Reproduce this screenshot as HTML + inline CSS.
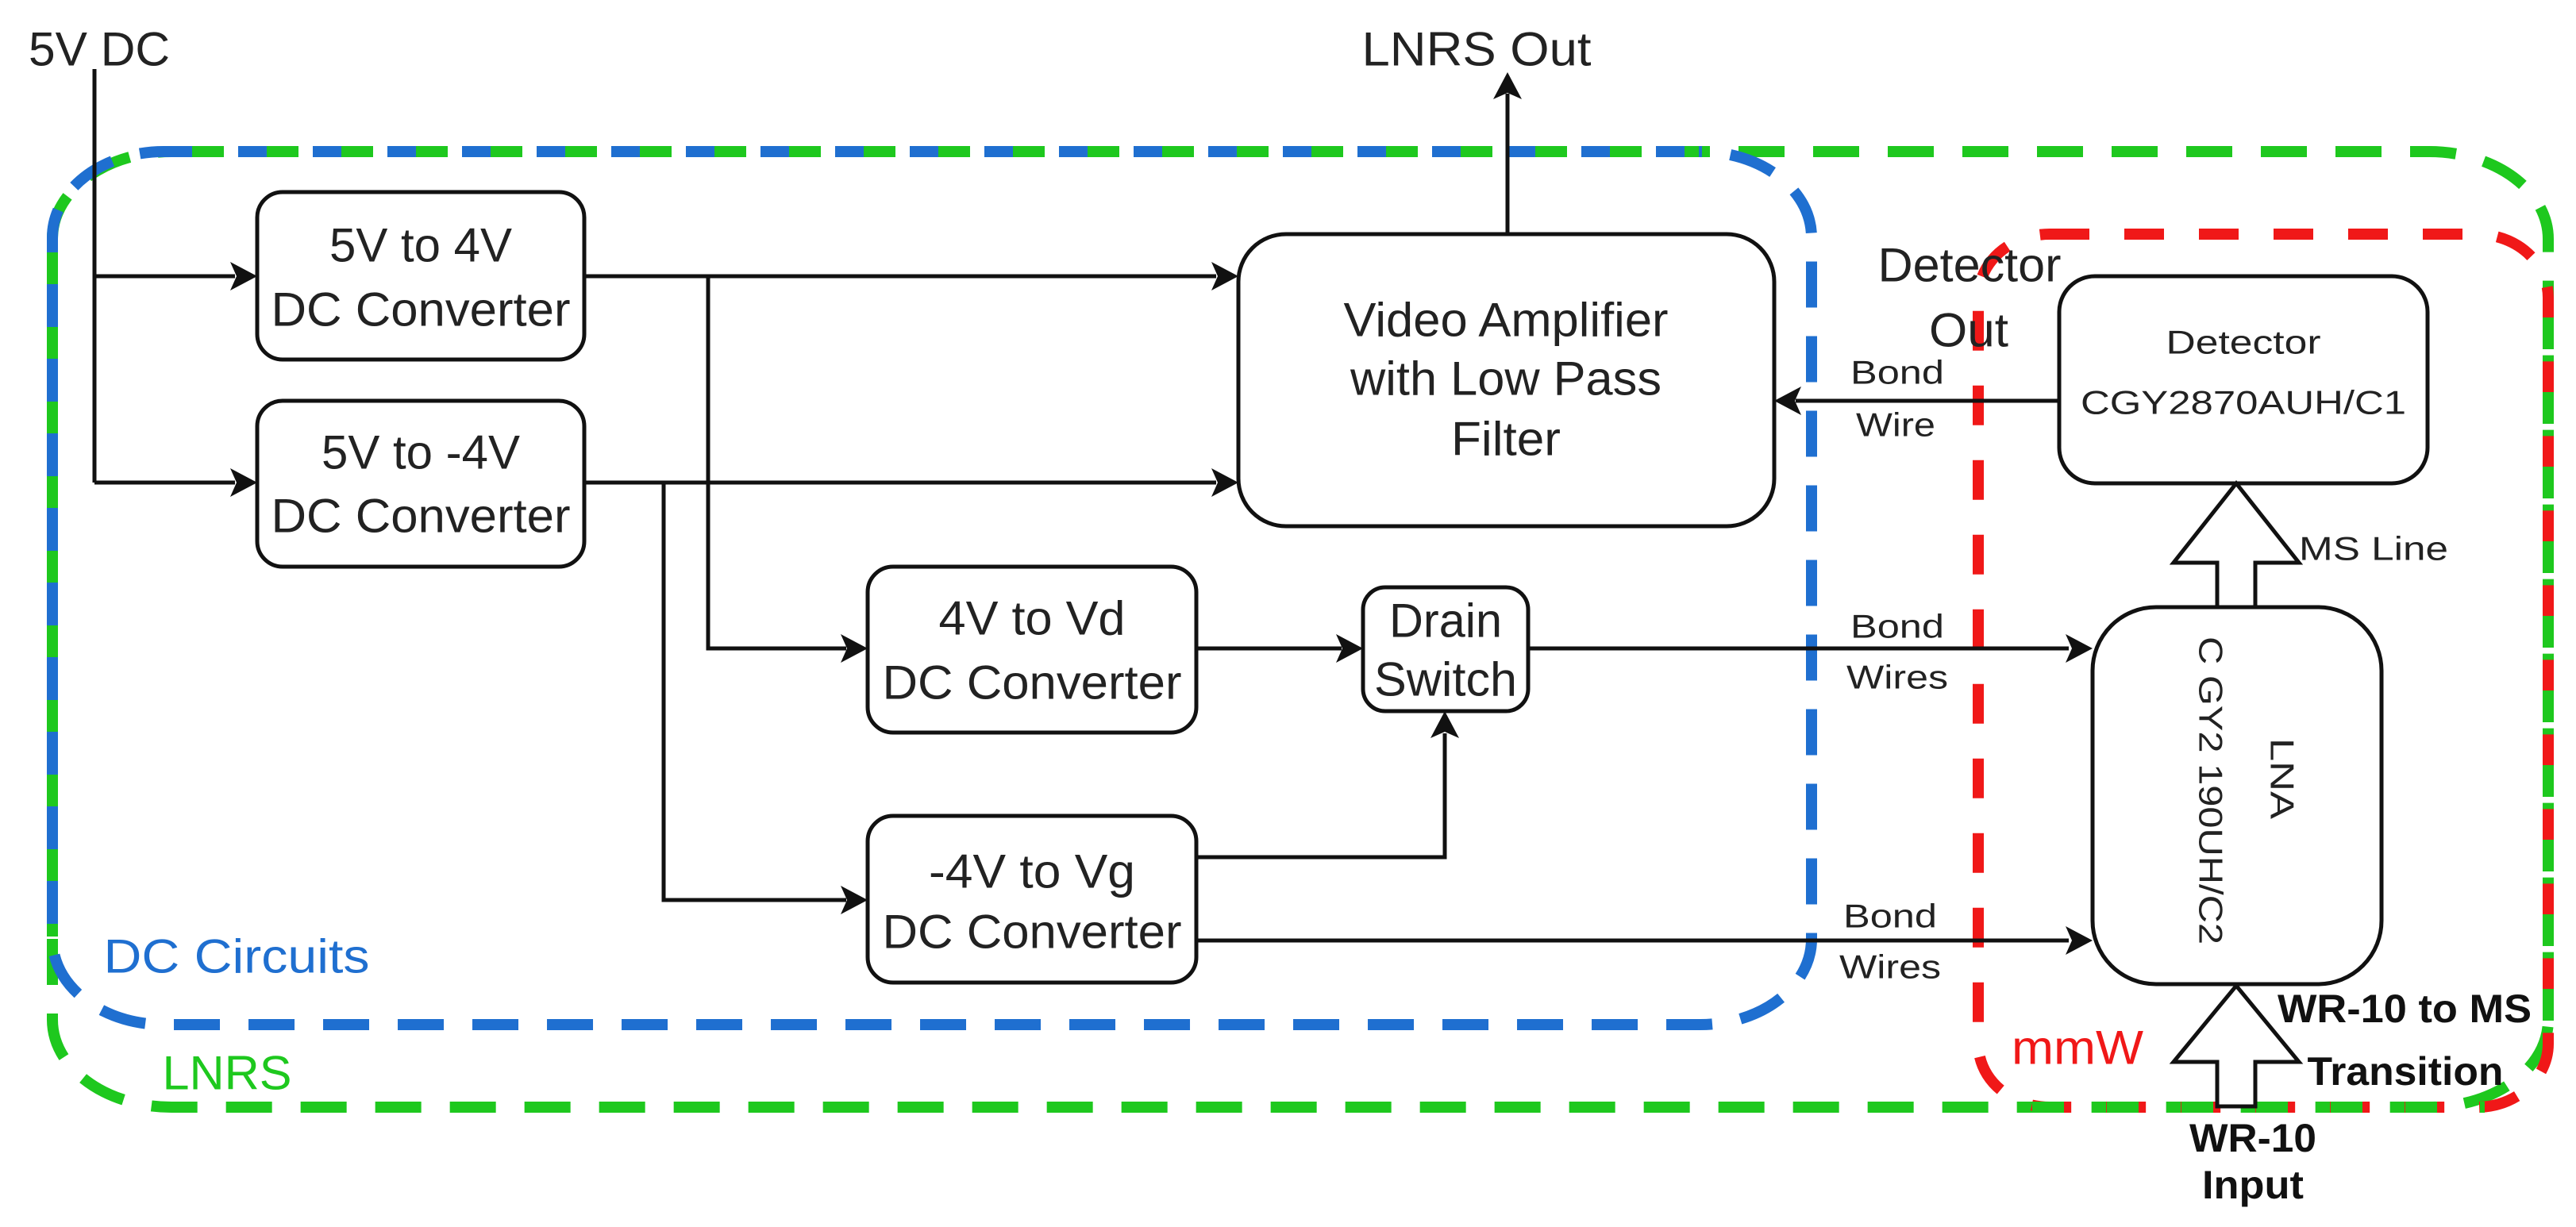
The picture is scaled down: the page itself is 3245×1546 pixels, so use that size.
<!DOCTYPE html>
<html><head><meta charset="utf-8"><style>
html,body{margin:0;padding:0;background:#fff;}
svg{display:block;}
text{font-family:"Liberation Sans",Arial,sans-serif;fill:#222;}
</style></head><body>
<svg width="3245" height="1546" viewBox="0 0 3245 1546" xmlns="http://www.w3.org/2000/svg">
<rect width="3245" height="1546" fill="#fff"/>

<!-- dashed group outlines -->
<rect x="66" y="191" width="3144" height="1204" rx="150" ry="110" fill="none" stroke="#1ec81e" stroke-width="14" stroke-dasharray="58 36"/>
<rect x="66" y="191" width="2216" height="1100" rx="140" ry="108" fill="none" stroke="#1f6fd0" stroke-width="14" stroke-dasharray="58 36"/>
<path d="M224 191 H2140" fill="none" stroke="#1ec81e" stroke-width="14" stroke-dasharray="40 54" stroke-dashoffset="-18"/>
<path d="M66 300 V1180" fill="none" stroke="#1ec81e" stroke-width="14" stroke-dasharray="40 54" stroke-dashoffset="-18"/>
<rect x="2492" y="295" width="718" height="1100" rx="90" ry="80" fill="none" stroke="#f01818" stroke-width="14" stroke-dasharray="50 44"/>
<path d="M3210 400 V1310" fill="none" stroke="#1ec81e" stroke-width="14" stroke-dasharray="40 54"/>
<path d="M2560 1395 H3130" fill="none" stroke="#1ec81e" stroke-width="14" stroke-dasharray="40 54"/>

<!-- wires -->
<g stroke="#111" stroke-width="5" fill="none">
<path d="M119 87 V608"/>
<path d="M119 348 H296"/>
<path d="M119 608 H296"/>
<path d="M736 348 H1532"/>
<path d="M736 608 H1532"/>
<path d="M892 348 V817 H1066"/>
<path d="M836 608 V1134 H1066"/>
<path d="M1507 817 H1690"/>
<path d="M1925 817 H2606"/>
<path d="M1507 1080 H1820 V924"/>
<path d="M1507 1185 H2606"/>
<path d="M1899 295 V118"/>
<path d="M2594 505 H2262"/>
</g>
<g fill="#111">
<polygon points="324,348 290,330 298,348 290,366"/>
<polygon points="324,608 290,590 298,608 290,626"/>
<polygon points="1560,348 1526,330 1534,348 1526,366"/>
<polygon points="1560,608 1526,590 1534,608 1526,626"/>
<polygon points="1093,817 1059,799 1067,817 1059,835"/>
<polygon points="1093,1134 1059,1116 1067,1134 1059,1152"/>
<polygon points="1717,817 1683,799 1691,817 1683,835"/>
<polygon points="2636,817 2602,799 2610,817 2602,835"/>
<polygon points="2636,1185 2602,1167 2610,1185 2602,1203"/>
<polygon points="1820,896 1802,930 1820,922 1838,930"/>
<polygon points="1899,91 1881,125 1899,117 1917,125"/>
<polygon points="2235,505 2269,487 2261,505 2269,523"/>
</g>

<!-- boxes -->
<g fill="#fff" stroke="#111" stroke-width="5">
<rect x="324" y="242" width="412" height="211" rx="32" ry="32"/>
<rect x="324" y="505" width="412" height="209" rx="32" ry="32"/>
<rect x="1093" y="714" width="414" height="209" rx="32" ry="32"/>
<rect x="1093" y="1028" width="414" height="210" rx="32" ry="32"/>
<rect x="1717" y="740" width="208" height="156" rx="28" ry="28"/>
<rect x="1560" y="295" width="675" height="368" rx="60" ry="60"/>
<rect x="2594" y="348" width="464" height="261" rx="45" ry="45"/>
<rect x="2636" y="765" width="364" height="475" rx="80" ry="80"/>
<polygon points="2817,609 2896,709 2841,709 2841,765 2793,765 2793,709 2738,709"/>
<polygon points="2817,1242 2896,1338 2841,1338 2841,1394 2793,1394 2793,1338 2738,1338"/>
</g>

<!-- texts -->
<g font-size="60" text-anchor="middle" dominant-baseline="central">
<text x="125" y="62" textLength="178" lengthAdjust="spacingAndGlyphs">5V DC</text>
<text x="1860" y="62" textLength="289" lengthAdjust="spacingAndGlyphs">LNRS Out</text>
<text x="530" y="309" textLength="230" lengthAdjust="spacingAndGlyphs">5V to 4V</text>
<text x="530" y="390" textLength="377" lengthAdjust="spacingAndGlyphs">DC Converter</text>
<text x="530" y="570" textLength="250" lengthAdjust="spacingAndGlyphs">5V to -4V</text>
<text x="530" y="650" textLength="377" lengthAdjust="spacingAndGlyphs">DC Converter</text>
<text x="1300" y="779" textLength="235" lengthAdjust="spacingAndGlyphs">4V to Vd</text>
<text x="1300" y="860" textLength="377" lengthAdjust="spacingAndGlyphs">DC Converter</text>
<text x="1300" y="1098" textLength="260" lengthAdjust="spacingAndGlyphs">-4V to Vg</text>
<text x="1300" y="1174" textLength="377" lengthAdjust="spacingAndGlyphs">DC Converter</text>
<text x="1821" y="782" textLength="142" lengthAdjust="spacingAndGlyphs">Drain</text>
<text x="1821" y="856" textLength="180" lengthAdjust="spacingAndGlyphs">Switch</text>
<text x="1897" y="403" textLength="409" lengthAdjust="spacingAndGlyphs">Video Amplifier</text>
<text x="1897" y="477" textLength="392" lengthAdjust="spacingAndGlyphs">with Low Pass</text>
<text x="1897" y="553" textLength="138" lengthAdjust="spacingAndGlyphs">Filter</text>
<text x="2481" y="334" textLength="231" lengthAdjust="spacingAndGlyphs">Detector</text>
<text x="2480" y="416" textLength="100" lengthAdjust="spacingAndGlyphs">Out</text>
<text x="298" y="1205" style="fill:#1f6fd0" textLength="335" lengthAdjust="spacingAndGlyphs">DC Circuits</text>
<text x="286" y="1352" style="fill:#1ec81e" textLength="163" lengthAdjust="spacingAndGlyphs">LNRS</text>
<text x="2617" y="1320" style="fill:#f01818" textLength="166" lengthAdjust="spacingAndGlyphs">mmW</text>
</g>
<g font-size="42" text-anchor="middle" dominant-baseline="central">
<text x="2826" y="431" textLength="195" lengthAdjust="spacingAndGlyphs">Detector</text>
<text x="2826" y="507" textLength="410" lengthAdjust="spacingAndGlyphs">CGY2870AUH/C1</text>
<text x="2390" y="469" textLength="118" lengthAdjust="spacingAndGlyphs">Bond</text>
<text x="2388" y="535" textLength="100" lengthAdjust="spacingAndGlyphs">Wire</text>
<text x="2990" y="691" textLength="188" lengthAdjust="spacingAndGlyphs">MS Line</text>
<text x="2390" y="789" textLength="118" lengthAdjust="spacingAndGlyphs">Bond</text>
<text x="2390" y="853" textLength="128" lengthAdjust="spacingAndGlyphs">Wires</text>
<text x="2381" y="1154" textLength="118" lengthAdjust="spacingAndGlyphs">Bond</text>
<text x="2381" y="1218" textLength="128" lengthAdjust="spacingAndGlyphs">Wires</text>
<text transform="translate(2785,996) rotate(90)" textLength="388" lengthAdjust="spacingAndGlyphs">C GY2 190UH/C2</text>
<text transform="translate(2875,981) rotate(90)" textLength="102" lengthAdjust="spacingAndGlyphs">LNA</text>
</g>
<g font-size="50" font-weight="bold" text-anchor="middle" dominant-baseline="central">
<text x="3029" y="1271" style="fill:#111" textLength="320" lengthAdjust="spacingAndGlyphs">WR-10 to MS</text>
<text x="3030" y="1350" style="fill:#111" textLength="247" lengthAdjust="spacingAndGlyphs">Transition</text>
<text x="2838" y="1434" style="fill:#111" textLength="160" lengthAdjust="spacingAndGlyphs">WR-10</text>
<text x="2838" y="1493" style="fill:#111" textLength="128" lengthAdjust="spacingAndGlyphs">Input</text>
</g>
</svg>
</body></html>
